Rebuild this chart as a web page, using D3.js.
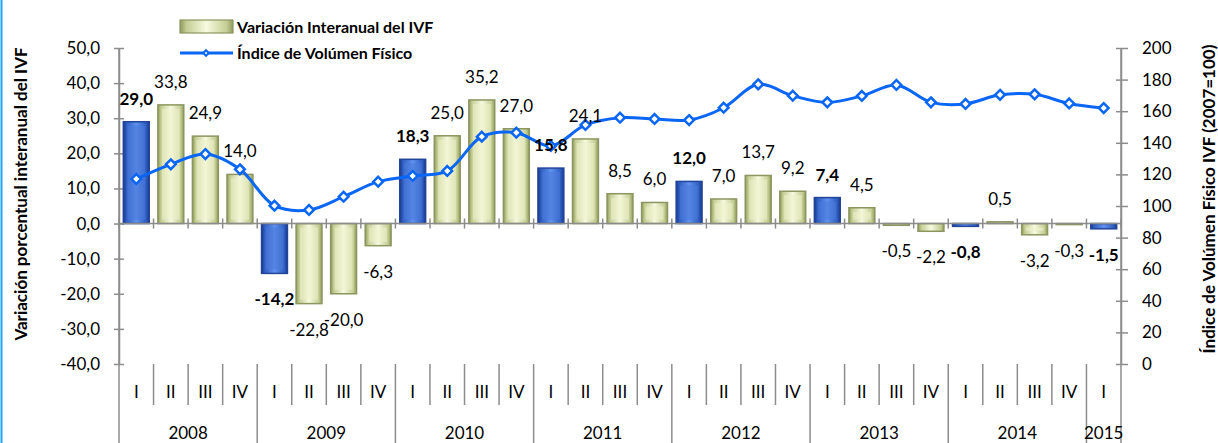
<!DOCTYPE html>
<html>
<head>
<meta charset="utf-8">
<script src="https://cdn.jsdelivr.net/npm/d3@7"></script>
<style>
  html, body { margin: 0; padding: 0; background: #fff; }
  svg { display: block; font-family: Lato, "Open Sans", sans-serif; }
</style>
</head>
<body>
<svg id="chart" width="1218" height="443"></svg>
<script>
// ---- data ----
const years = ["2008", "2009", "2010", "2011", "2012", "2013", "2014", "2015"];
const quarterNames = ["I", "II", "III", "IV"];
const categories = [
  "2008-I","2008-II","2008-III","2008-IV",
  "2009-I","2009-II","2009-III","2009-IV",
  "2010-I","2010-II","2010-III","2010-IV",
  "2011-I","2011-II","2011-III","2011-IV",
  "2012-I","2012-II","2012-III","2012-IV",
  "2013-I","2013-II","2013-III","2013-IV",
  "2014-I","2014-II","2014-III","2014-IV",
  "2015-I"
];
const variacion = [
  29.0, 33.8, 24.9, 14.0,
  -14.2, -22.8, -20.0, -6.3,
  18.3, 25.0, 35.2, 27.0,
  15.8, 24.1, 8.5, 6.0,
  12.0, 7.0, 13.7, 9.2,
  7.4, 4.5, -0.5, -2.2,
  -0.8, 0.5, -3.2, -0.3,
  -1.5
];
const indice = [
  117.1, 126.4, 132.9, 123.2,
  100.2, 97.5, 105.9, 115.4,
  119.0, 122.2, 143.9, 146.4,
  138.0, 151.3, 155.9, 155.1,
  154.4, 162.2, 177.0, 169.8,
  165.6, 169.7, 176.6, 165.6,
  164.6, 170.4, 170.7, 164.9,
  162.0
];
const leftTicks = [-40, -30, -20, -10, 0, 10, 20, 30, 40, 50];
const rightTicks = [0, 20, 40, 60, 80, 100, 120, 140, 160, 180, 200];
const seriesNames = ["Variación Interanual del IVF", "Índice de Volúmen Físico"];
const leftTitle = "Variación porcentual interanual del IVF";
const rightTitle = "Índice de Volúmen Físico IVF (2007=100)";

// ---- layout ----
const svg = d3.select("#chart");
const plotL = 119, plotR = 1121, plotT = 48, plotB = 364, bottomEnd = 443;
const axisColor = "#8c8c8c";
const fmt = v => d3.format(".1f")(v).replace(".", ",").replace("\u2212", "-");

const x = d3.scaleBand().domain(categories).range([plotL, plotR]).paddingInner(0.25).paddingOuter(0.125);
const yL = d3.scaleLinear().domain([-40, 50]).range([plotB, plotT]);
const yR = d3.scaleLinear().domain([0, 200]).range([plotB, plotT]);
const step = x.step();

// gradients
const defs = svg.append("defs");
function hGrad(id, stops) {
  const g = defs.append("linearGradient").attr("id", id).attr("x1", "0%").attr("x2", "100%").attr("y1", "0%").attr("y2", "0%");
  stops.forEach(([o, c]) => g.append("stop").attr("offset", o).attr("stop-color", c));
}
hGrad("gGreen", [[0, "#8e9a5c"], [0.12, "#c4cd94"], [0.5, "#f7fadf"], [0.88, "#c4cd94"], [1, "#8e9a5c"]]);
hGrad("gBlue", [[0, "#1a3787"], [0.12, "#2f5ec2"], [0.5, "#5f91ee"], [0.88, "#2f5ec2"], [1, "#1a3787"]]);

// left border line (frame)
svg.append("line").attr("x1", 1.5).attr("x2", 1.5).attr("y1", 0).attr("y2", bottomEnd)
  .attr("stroke", "#1fa3ff").attr("stroke-width", 2);

// ---- left axis ----
const gL = svg.append("g").attr("transform", `translate(${plotL},0)`)
  .call(d3.axisLeft(yL).tickValues(leftTicks).tickFormat(fmt).tickSizeOuter(0).tickSizeInner(5).tickPadding(14));
gL.select(".domain").attr("stroke", axisColor).attr("stroke-width", 1.5);
gL.selectAll(".tick line").attr("x1", -5).attr("x2", 5).attr("stroke", axisColor).attr("stroke-width", 1.5);
gL.selectAll(".tick text").attr("font-size", 17).attr("fill", "#000").attr("font-family", "Lato, sans-serif");
gL.append("line").attr("x1", 0).attr("x2", 0).attr("y1", yL(50)).attr("y2", bottomEnd).attr("stroke", axisColor).attr("stroke-width", 1.5);

// ---- right axis ----
const gR = svg.append("g").attr("transform", `translate(${plotR},0)`)
  .call(d3.axisRight(yR).tickValues(rightTicks).tickFormat(d3.format("d")).tickSizeOuter(0).tickSizeInner(5).tickPadding(16));
gR.select(".domain").attr("stroke", axisColor).attr("stroke-width", 1.5);
gR.selectAll(".tick line").attr("x1", -5).attr("x2", 7).attr("stroke", axisColor).attr("stroke-width", 1.5);
gR.selectAll(".tick text").attr("font-size", 17).attr("fill", "#000").attr("font-family", "Lato, sans-serif");
gR.append("line").attr("x1", 0).attr("x2", 0).attr("y1", yR(200)).attr("y2", bottomEnd).attr("stroke", axisColor).attr("stroke-width", 1.5);

// ---- bars ----
const bars = svg.append("g");
categories.forEach((c, i) => {
  const v = variacion[i];
  const isQ1 = i % 4 === 0;
  const y0 = yL(Math.max(0, v)), y1 = yL(Math.min(0, v));
  const bx = x(c), bw = x.bandwidth(), bh = Math.max(1, y1 - y0);
  bars.append("rect").attr("x", bx).attr("y", y0).attr("width", bw).attr("height", bh)
    .attr("fill", isQ1 ? "url(#gBlue)" : "url(#gGreen)")
    .attr("stroke", isQ1 ? "#22459a" : "#8b9660").attr("stroke-width", 1.5);
  if (bh > 10) {
    bars.append("rect").attr("x", bx + 4).attr("y", y0 + 4).attr("width", bw - 8).attr("height", bh - 8)
      .attr("fill", isQ1 ? "#4a7ada" : "#eef3cc").attr("opacity", 0.55);
  }
});

// ---- category axis at zero ----
const gX = svg.append("g");
gX.append("line").attr("x1", plotL).attr("x2", plotR).attr("y1", yL(0)).attr("y2", yL(0))
  .attr("stroke", axisColor).attr("stroke-width", 1.5);
d3.range(0, categories.length + 1).forEach(i => {
  const xx = plotL + i * step;
  gX.append("line").attr("x1", xx).attr("x2", xx).attr("y1", yL(0) - 5).attr("y2", yL(0) + 5)
    .attr("stroke", axisColor).attr("stroke-width", 1.5);
});

// ---- bottom category labels ----
const gB = svg.append("g");
d3.range(1, categories.length).forEach(i => {
  const xx = plotL + i * step;
  gB.append("line").attr("x1", xx).attr("x2", xx).attr("y1", plotB).attr("y2", i % 4 === 0 ? bottomEnd : 405)
    .attr("stroke", axisColor).attr("stroke-width", 1.5);
});
categories.forEach((c, i) => {
  gB.append("text").attr("x", x(c) + x.bandwidth() / 2).attr("y", 392).attr("dy", "0.35em")
    .attr("text-anchor", "middle").attr("font-size", 17).text(quarterNames[i % 4]);
});
years.forEach((yr, k) => {
  const members = categories.filter(c => c.startsWith(yr));
  const first = x(members[0]), last = x(members[members.length - 1]) + x.bandwidth();
  gB.append("text").attr("x", (first + last) / 2).attr("y", 433).attr("dy", "0.35em")
    .attr("text-anchor", "middle").attr("font-size", 17).text(yr);
});

// ---- line ----
const pts = categories.map((c, i) => [x(c) + x.bandwidth() / 2, yR(indice[i])]);
svg.append("path").attr("d", d3.line().curve(d3.curveCatmullRom.alpha(0.5))(pts))
  .attr("fill", "none").attr("stroke", "#0a66f5").attr("stroke-width", 3);
const diamond = d3.symbol().type(d3.symbolDiamond2).size(60);
svg.append("g").selectAll("path").data(pts).join("path")
  .attr("transform", d => `translate(${d[0]},${d[1]})`)
  .attr("d", diamond).attr("fill", "#fff").attr("stroke", "#0a66f5").attr("stroke-width", 2.5);

// ---- data labels ----
const gLab = svg.append("g");
categories.forEach((c, i) => {
  const v = variacion[i];
  const cx = x(c) + x.bandwidth() / 2;
  const cy = v >= 0 ? yL(v) - 23 : yL(v) + 26;
  gLab.append("text").attr("x", cx).attr("y", cy).attr("dy", "0.35em")
    .attr("text-anchor", "middle").attr("font-size", 17)
    .attr("font-weight", i % 4 === 0 ? "bold" : "normal").text(fmt(v));
});

// ---- legend ----
const gLeg = svg.append("g");
gLeg.append("rect").attr("x", 180).attr("y", 20).attr("width", 53).attr("height", 13)
  .attr("fill", "url(#gGreen)").attr("stroke", "#8b9660").attr("stroke-width", 1.2);
gLeg.append("text").attr("x", 237).attr("y", 27).attr("dy", "0.35em").attr("font-size", 16)
  .attr("font-weight", "bold").text(seriesNames[0]);
gLeg.append("line").attr("x1", 180).attr("x2", 233).attr("y1", 53).attr("y2", 53)
  .attr("stroke", "#0a66f5").attr("stroke-width", 3);
gLeg.append("path").attr("transform", "translate(206,53)").attr("d", d3.symbol().type(d3.symbolDiamond2).size(20))
  .attr("fill", "#fff").attr("stroke", "#0a66f5").attr("stroke-width", 2);
gLeg.append("text").attr("x", 237).attr("y", 53).attr("dy", "0.35em").attr("font-size", 16)
  .attr("font-weight", "bold").text(seriesNames[1]);

// ---- axis titles ----
svg.append("text").attr("transform", "translate(21,194) rotate(-90)").attr("text-anchor", "middle")
  .attr("dy", "0.35em").attr("font-size", 17).attr("font-weight", "bold").text(leftTitle);
svg.append("text").attr("transform", "translate(1209,199) rotate(-90)").attr("text-anchor", "middle")
  .attr("dy", "0.35em").attr("font-size", 17).attr("font-weight", "bold").text(rightTitle);
</script>
</body>
</html>
